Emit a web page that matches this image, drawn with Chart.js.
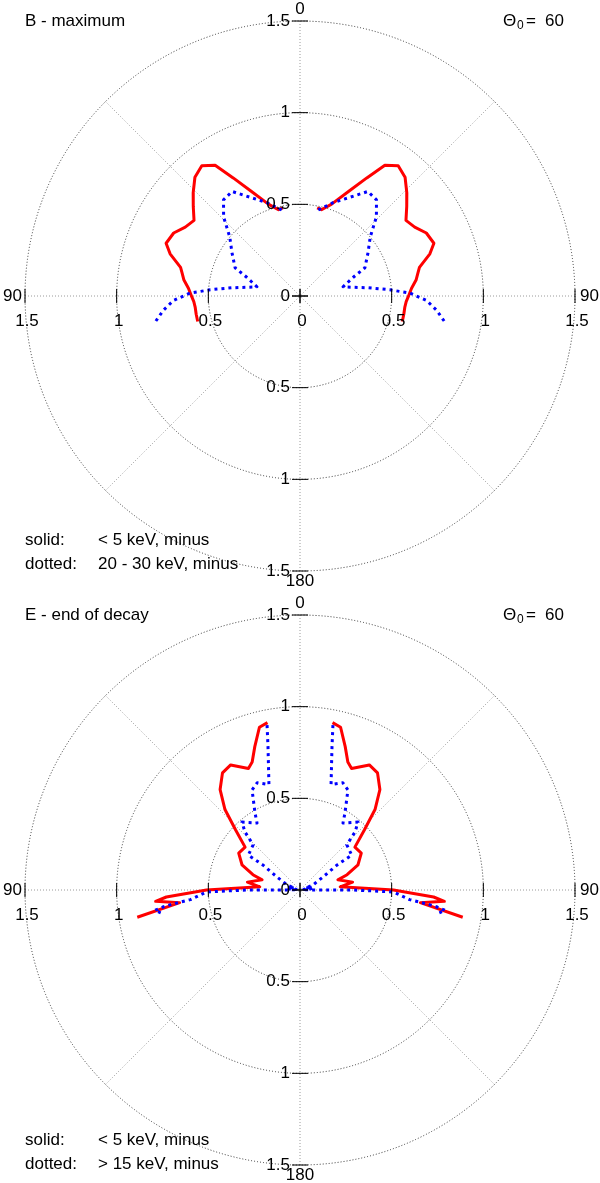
<!DOCTYPE html>
<html>
<head>
<meta charset="utf-8">
<script src="https://cdn.jsdelivr.net/npm/chart.js@4"></script>
<style>
  body { margin: 0; background: #fff; }
  canvas { display: block; }
</style>
</head>
<body>
<canvas id="panelB" width="600" height="594"></canvas>
<canvas id="panelE" width="600" height="589"></canvas>
<script>
// radial ticks and angle labels
var ringValues = [0, 0.5, 1, 1.5];
var ringLabels = ['0', '0.5', '1', '1.5'];
var angleLabels = ['0', '90', '180', '90'];

// B - maximum (angle from the top in degrees, radius), right half; left half is the mirror
var bSolidDeg = [11, 14, 19, 25, 29.5, 33, 37, 41.5, 46, 50, 54.5, 59, 63.5, 68.5, 72, 76.5, 79, 82, 86, 90.5, 93, 96, 100, 104];
var bSolidR   = [0.49, 0.485, 0.53, 0.63, 0.74, 0.85, 0.89, 0.865, 0.81, 0.76, 0.71, 0.73, 0.77, 0.785, 0.745, 0.67, 0.655, 0.64, 0.61, 0.59, 0.58, 0.575, 0.575, 0.575];
var bDotDeg   = [12, 19.5, 27, 33, 38.5, 44, 50, 57.5, 66.5, 70.5, 78, 83, 86, 88.5, 92, 96, 100];
var bDotR     = [0.48, 0.54, 0.605, 0.68, 0.67, 0.60, 0.50, 0.44, 0.386, 0.31, 0.24, 0.37, 0.49, 0.60, 0.69, 0.75, 0.80];

// E - end of decay
var eSolidDeg = [11, 14, 17.5, 20.5, 23, 29, 33.5, 38.5, 43, 47, 52, 59, 66.5, 72, 75, 81.5, 85.5, 90, 93, 94.5, 96, 99.5];
var eSolidR   = [0.93, 0.915, 0.82, 0.745, 0.72, 0.78, 0.766, 0.70, 0.60, 0.48, 0.38, 0.39, 0.345, 0.27, 0.214, 0.29, 0.22, 0.51, 0.73, 0.79, 0.66, 0.90];
var eDotDeg   = [11.3, 12.6, 16.4, 21.7, 25.6, 30.3, 32.7, 40.5, 43.5, 46, 56, 56, 60.5, 66, 69, 72, 76, 80, 84, 88, 90, 90, 91.2, 95, 96, 97, 98, 99.3];
var eDotR     = [0.917, 0.80, 0.60, 0.63, 0.605, 0.486, 0.434, 0.487, 0.436, 0.355, 0.34, 0.245, 0.144, 0.09, 0.076, 0.03, 0.07, 0.02, 0.06, 0.03, 0.11, 0.29, 0.51, 0.60, 0.675, 0.75, 0.80, 0.77];

var FONT = '"Liberation Sans", Arial, Helvetica, sans-serif';

function polarPoints(deg, r, side) {
  return deg.map(function (d, i) {
    var a = d * Math.PI / 180;
    return { x: side * r[i] * Math.sin(a), y: r[i] * Math.cos(a) };
  });
}

function curve(deg, r, side, dotted) {
  return {
    data: polarPoints(deg, r, side),
    showLine: true,
    fill: false,
    tension: 0,
    pointRadius: 0,
    borderWidth: 3,
    borderColor: dotted ? '#0000ff' : '#ff0000',
    borderDash: dotted ? [3, 4] : [],
    borderCapStyle: 'butt',
    borderJoinStyle: 'round'
  };
}

var polarGrid = {
  id: 'polarGrid',
  beforeDatasetsDraw: function (chart) {
    var ctx = chart.ctx, xs = chart.scales.x, ys = chart.scales.y;
    var cx = xs.getPixelForValue(0), cy = ys.getPixelForValue(0);
    var unit = xs.getPixelForValue(1) - cx;
    var rMax = ringValues[ringValues.length - 1];
    ctx.save();
    ctx.lineWidth = 1;
    // spokes
    ctx.strokeStyle = '#9a9a9a';
    ctx.setLineDash([1, 2]);
    [0, 45, 90, 135].forEach(function (d) {
      var a = d * Math.PI / 180;
      ctx.beginPath();
      ctx.moveTo(cx + rMax * unit * Math.sin(a), cy - rMax * unit * Math.cos(a));
      ctx.lineTo(cx - rMax * unit * Math.sin(a), cy + rMax * unit * Math.cos(a));
      ctx.stroke();
    });
    // circles
    ctx.strokeStyle = '#333';
    ringValues.forEach(function (v) {
      if (v === 0) return;
      ctx.beginPath();
      ctx.arc(cx, cy, v * unit, 0, Math.PI * 2);
      ctx.stroke();
    });
    ctx.restore();
  },
  afterDraw: function (chart) {
    var o = chart.options.plugins.polarGrid;
    var ctx = chart.ctx, xs = chart.scales.x, ys = chart.scales.y;
    var cx = xs.getPixelForValue(0), cy = ys.getPixelForValue(0);
    var unit = xs.getPixelForValue(1) - cx;
    var rMax = ringValues[ringValues.length - 1];
    ctx.save();
    ctx.strokeStyle = '#000';
    ctx.lineWidth = 1;
    ctx.setLineDash([]);
    ctx.fillStyle = '#000';
    ctx.font = '17px ' + FONT;
    ctx.textBaseline = 'middle';
    ringValues.forEach(function (v, i) {
      var p = v * unit;
      // ticks on both axes
      [-1, 1].forEach(function (s) {
        ctx.beginPath();
        ctx.moveTo(cx - 8, cy + s * p);
        ctx.lineTo(cx + 8, cy + s * p);
        ctx.stroke();
        ctx.beginPath();
        ctx.moveTo(cx + s * p, cy - 7);
        ctx.lineTo(cx + s * p, cy + 7);
        ctx.stroke();
      });
      ctx.textAlign = 'right';
      ctx.fillText(ringLabels[i], cx - 10, cy - p);
      if (v !== 0) ctx.fillText(ringLabels[i], cx - 10, cy + p);
      ctx.textAlign = 'center';
      ctx.fillText(ringLabels[i], cx - p + 2, cy + 25);
      if (v !== 0) ctx.fillText(ringLabels[i], cx + p + 2, cy + 25);
    });
    // angle labels
    ctx.textAlign = 'center';
    ctx.fillText(angleLabels[0], cx, cy - rMax * unit - 12);
    ctx.fillText(angleLabels[2], cx, cy + rMax * unit + 10);
    ctx.textAlign = 'right';
    ctx.fillText(angleLabels[3], cx - rMax * unit - 3, cy);
    ctx.textAlign = 'left';
    ctx.fillText(angleLabels[1], cx + rMax * unit + 5, cy);

    // title and theta
    ctx.fillText(o.title, 25, 21);
    ctx.fillText('\u0398', 503, 21);
    ctx.font = '12px ' + FONT;
    ctx.fillText('0', 517, 26);
    ctx.font = '17px ' + FONT;
    ctx.fillText('=', 526, 21);
    ctx.fillText('60', 545, 21);

    // legend text
    ctx.fillText('solid:', 25, o.legendY);
    ctx.fillText('< 5 keV, minus', 98, o.legendY);
    ctx.fillText('dotted:', 25, o.legendY + 24);
    ctx.fillText(o.dottedText, 98, o.legendY + 24);
    ctx.restore();
  }
};

function makePanel(id, title, dottedText, legendY, sDeg, sR, dDeg, dR) {
  var canvas = document.getElementById(id);
  var h = canvas.height;
  return new Chart(canvas, {
    type: 'scatter',
    data: {
      datasets: [
        curve(dDeg, dR, 1, true),
        curve(dDeg, dR, -1, true),
        curve(sDeg, sR, 1, false),
        curve(sDeg, sR, -1, false)
      ]
    },
    options: {
      responsive: false,
      animation: false,
      layout: { padding: { left: 25, right: 25, top: 21, bottom: h - 571 } },
      scales: {
        x: { type: 'linear', min: -1.5, max: 1.5, display: false },
        y: { type: 'linear', min: -1.5, max: 1.5, display: false }
      },
      plugins: {
        legend: { display: false },
        tooltip: { enabled: false },
        polarGrid: { title: title, dottedText: dottedText, legendY: legendY }
      }
    },
    plugins: [polarGrid]
  });
}

makePanel('panelB', 'B - maximum', '20 - 30 keV, minus', 540, bSolidDeg, bSolidR, bDotDeg, bDotR);
makePanel('panelE', 'E - end of decay', '> 15 keV, minus', 546, eSolidDeg, eSolidR, eDotDeg, eDotR);
</script>
</body>
</html>
